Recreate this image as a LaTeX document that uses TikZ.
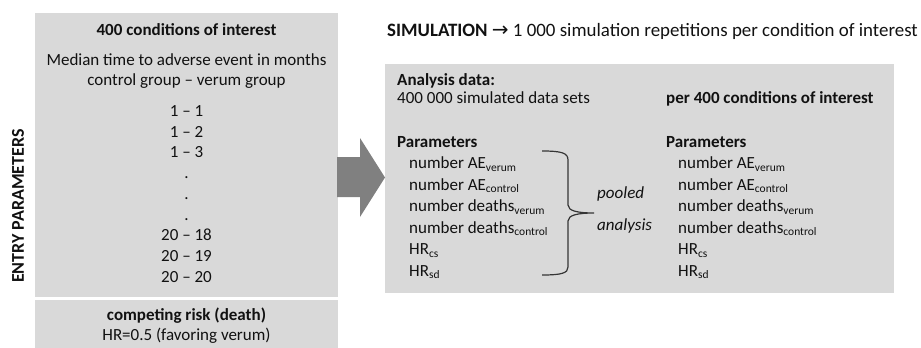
\documentclass[tikz,border=0pt]{standalone}
\usepackage{fontspec}
\setmainfont{Carlito}
\newfontfamily\symf{DejaVu Sans}
\newcommand\lowsub[1]{\raisebox{-0.35ex}{\fontsize{11.5}{11.5}\selectfont #1}}
\definecolor{boxgray}{HTML}{D9D9D9}
\definecolor{arrowgray}{HTML}{808080}
\definecolor{txt}{HTML}{111111}
\begin{document}
\begin{tikzpicture}[x=1pt,y=-1pt,
  panel/.style={fill=boxgray,draw=none,inner sep=0pt,anchor=north west},
  lbl/.style={inner sep=0pt,text=txt,font=\fontsize{17}{20}\selectfont},
  lblb/.style={lbl,font=\fontsize{17}{20}\selectfont\bfseries},
  lbli/.style={lbl,font=\fontsize{17}{20}\selectfont\itshape}]
\useasboundingbox (0,0) rectangle (921,348);
% panels
\node[panel,minimum width=303pt,minimum height=284pt] (cond) at (35,13) {};
\node[panel,minimum width=303pt,minimum height=48pt] (risk) at (35,300) {};
\node[panel,minimum width=509pt,minimum height=229pt] (sim) at (385,64) {};
% big arrow
\fill[arrowgray] (337,157) -- (360,157) -- (360,138) -- (385,177.5) -- (360,217) -- (360,197) -- (337,197) -- cycle;
% side label
\node[lblb,rotate=90,anchor=center,font=\fontsize{18}{20}\selectfont\bfseries] (entry) at (18,206) {ENTRY PARAMETERS};
% left texts
\node[lblb,anchor=base] (t1) at (186.5,35) {400 conditions of interest};
\node[lbl,anchor=base] (t2) at (186.5,65) {Median time to adverse event in months};
\node[lbl,anchor=base] (t3) at (186.5,85) {control group – verum group};
\node[lbl,anchor=base] (v1) at (186.5,116.5) {1 – 1};
\node[lbl,anchor=base] (v2) at (186.5,137.2) {1 – 2};
\node[lbl,anchor=base] (v3) at (186.5,157.9) {1 – 3};
\node[lbl,anchor=base] (d1) at (186.5,178.6) {.};
\node[lbl,anchor=base] (d2) at (186.5,199.3) {.};
\node[lbl,anchor=base] (d3) at (186.5,220) {.};
\node[lbl,anchor=base] (v4) at (186.5,240.7) {20 – 18};
\node[lbl,anchor=base] (v5) at (186.5,261.4) {20 – 19};
\node[lbl,anchor=base] (v6) at (186.5,282.1) {20 – 20};
\node[lblb,anchor=base] (r1) at (186.5,320.5) {competing risk (death)};
\node[lbl,anchor=base] (r2) at (186.5,340) {HR=0.5 (favoring verum)};
% title
\node[lbl,anchor=base west,font=\fontsize{18.9}{22}\selectfont] (title) at (387,36) {\textbf{SIMULATION} {\symf\fontsize{20}{22}\selectfont →} 1 000 simulation repetitions per condition of interest};
% right panel texts
\node[lblb,anchor=base west] (ad) at (397,85) {Analysis data:};
\node[lbl,anchor=base west] (ds) at (397,103) {400 000 simulated data sets};
\node[lblb,anchor=base west] (per) at (666,103) {per 400 conditions of interest};
\node[lblb,anchor=base west] (pa) at (397,147) {Parameters};
\node[lblb,anchor=base west] (pb) at (666,147) {Parameters};
\foreach \x/\n in {409/a,678/b}{
  \node[lbl,anchor=base west] (\n1) at (\x,168.5) {number AE\lowsub{verum}};
  \node[lbl,anchor=base west] (\n2) at (\x,190) {number AE\lowsub{control}};
  \node[lbl,anchor=base west] (\n3) at (\x,211.5) {number deaths\lowsub{verum}};
  \node[lbl,anchor=base west] (\n4) at (\x,233) {number deaths\lowsub{control}};
  \node[lbl,anchor=base west] (\n5) at (\x,254.5) {HR\lowsub{cs}};
  \node[lbl,anchor=base west] (\n6) at (\x,276) {HR\lowsub{sd}};
}
% brace
\coordinate (btop) at (542,151);
\coordinate (btip) at (594,213);
\coordinate (bbot) at (542,275);
\draw[line width=1.2pt,draw=txt!85] (btop) .. controls (562,151) and (568,153) .. (568,160) -- (568,205) .. controls (568,211) and (578,213) .. (btip)
  .. controls (578,213) and (568,215) .. (568,221) -- (568,267) .. controls (568,273) and (562,275) .. (bbot);
\node[lbli,anchor=base west] (pooled) at (597,198) {pooled};
\node[lbli,anchor=base west] (analysis) at (597,230) {analysis};
\end{tikzpicture}
\end{document}
